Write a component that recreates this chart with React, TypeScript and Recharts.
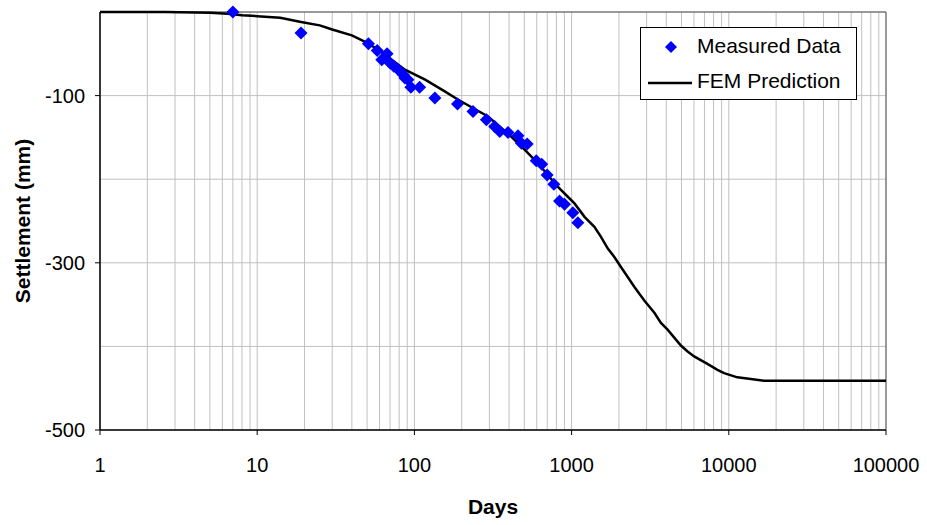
import { ScatterChart, Scatter, XAxis, YAxis, CartesianGrid, Legend, ReferenceLine } from "recharts"

// measured settlement readings (days since start, settlement in mm)
const measuredDays = [7, 19, 51, 58, 62, 67, 70, 74, 79, 85, 87, 91, 95, 108, 135, 188, 236, 287, 324, 349, 394, 456, 479, 522, 596, 646, 699, 771, 838, 901, 1018, 1096]
const measuredSettlement = [0, -25, -38, -46, -57, -50, -61, -65, -69, -75, -79, -81, -90, -90, -103, -110, -119, -129, -137, -143, -144, -148, -157, -158, -178, -182, -195, -206, -226, -230, -240, -252]

// FEM curve
const femDays = [1, 2.6, 5, 6.5, 8, 10, 14, 19, 25, 30, 40, 49, 60, 87, 117, 156, 190, 294, 413, 504, 611, 816, 946, 1043, 1208, 1396, 1538, 1700, 1870, 2060, 2275, 2510, 2900, 3370, 3700, 4080, 4960, 5470, 6020, 7310, 8470, 9330, 11330, 12700, 16750, 100000]
const femSettlement = [0, 0, -1, -2, -4, -5, -7, -12, -16, -21, -28, -36, -46, -69, -81, -95, -105, -125, -149, -165, -181, -209, -221, -229, -245, -257, -269, -283, -293, -305, -317, -329, -345, -360, -372, -380, -399, -406, -412, -421, -428, -432, -437, -438, -441, -441]

const decades = [1, 10, 100, 1000, 10000, 100000]
const xGridTicks = decades.flatMap((d, i) => (i < decades.length - 1 ? [1, 2, 3, 4, 5, 6, 7, 8, 9].map((m) => m * d) : [d]))
const yTicks = [-500, -400, -300, -200, -100, 0]
const yLabelTicks = [-500, -300, -100]

const measured = measuredDays.map((d, i) => ({ x: d, y: measuredSettlement[i] }))
const fem = femDays.map((d, i) => ({ x: d, y: femSettlement[i] }))

const font = "'Liberation Sans', Arial, sans-serif"

const XTick = (props: any) => {
  const { x, y, payload } = props
  if (!decades.includes(payload.value)) return <g />
  return (
    <g>
      <line x1={x} x2={x} y1={y} y2={y + 5} stroke="#000" />
      <text x={x} y={y + 35} textAnchor="middle" dominantBaseline="central" fontSize={20} fontFamily={font} fill="#000">
        {payload.value}
      </text>
    </g>
  )
}

const YTick = (props: any) => {
  const { x, y, payload } = props
  if (!yLabelTicks.includes(payload.value)) return <g />
  return (
    <g>
      <line x1={x - 5} x2={x} y1={y} y2={y} stroke="#000" />
      <text x={x - 15} y={y} textAnchor="end" dominantBaseline="central" fontSize={20} fontFamily={font} fill="#000">
        {payload.value}
      </text>
    </g>
  )
}

const Diamond = (props: any) => {
  const { cx, cy } = props
  const r = 6.5
  return <polygon points={`${cx},${cy - r} ${cx + r},${cy} ${cx},${cy + r} ${cx - r},${cy}`} fill="#0000ff" />
}

const renderLegend = () => (
  <div
    style={{
      position: "relative",
      width: 215,
      height: 71,
      border: "1px solid #000",
      background: "#fff",
      fontFamily: font,
      fontSize: 21,
      color: "#000",
    }}
  >
    <svg width={60} height={71} style={{ position: "absolute", left: 0, top: 0 }}>
      <polygon points="30,13 36,19 30,25 24,19" fill="#0000ff" />
      <line x1={7} x2={51} y1={55} y2={55} stroke="#000" strokeWidth={2.5} />
    </svg>
    <span style={{ position: "absolute", left: 56, top: 6, whiteSpace: "nowrap" }}>Measured Data</span>
    <span style={{ position: "absolute", left: 56, top: 41, whiteSpace: "nowrap" }}>FEM Prediction</span>
  </div>
)

export default function App() {
  return (
    <div style={{ position: "absolute", left: 0, top: 0, width: 927, height: 525, background: "#fff" }}>
      <ScatterChart width={927} height={525} margin={{ top: 12, right: 41, bottom: 0, left: 0 }}>
        <CartesianGrid stroke="#c0c0c0" strokeWidth={1} />
        <XAxis
          dataKey="x"
          type="number"
          scale="log"
          domain={[1, 100000]}
          ticks={xGridTicks}
          interval={0}
          allowDataOverflow
          height={95}
          tickSize={0}
          tickMargin={0}
          tickLine={false}
          tick={<XTick />}
          axisLine={{ stroke: "#000", strokeWidth: 1.5 }}
          label={{
            content: () => (
              <text x={493} y={506} textAnchor="middle" dominantBaseline="central" fontSize={21} fontWeight="bold" fontFamily={font} fill="#000">
                Days
              </text>
            ),
          }}
        />
        <YAxis
          dataKey="y"
          type="number"
          domain={[-500, 0]}
          ticks={yTicks}
          interval={0}
          width={100}
          tickSize={0}
          tickMargin={0}
          tickLine={false}
          tick={<YTick />}
          axisLine={{ stroke: "#000", strokeWidth: 1.5 }}
          label={{
            content: () => (
              <text
                x={22}
                y={221}
                transform="rotate(-90, 22, 221)"
                textAnchor="middle"
                dominantBaseline="central"
                fontSize={21}
                fontWeight="bold"
                fontFamily={font}
                fill="#000"
              >
                Settlement (mm)
              </text>
            ),
          }}
        />
        <ReferenceLine y={0} stroke="#555" strokeWidth={1} />
        <ReferenceLine x={100000} stroke="#555" strokeWidth={1} />
        <Legend
          layout="vertical"
          align="center"
          verticalAlign="middle"
          content={renderLegend}
          wrapperStyle={{ position: "absolute", left: 640, top: 27, width: 217 }}
        />
        <Scatter
          name="FEM Prediction"
          data={fem}
          line={{ stroke: "#000", strokeWidth: 2.5 }}
          lineType="joint"
          shape={() => <g />}
          isAnimationActive={false}
        />
        <Scatter name="Measured Data" data={measured} shape={<Diamond />} isAnimationActive={false} />
      </ScatterChart>
    </div>
  )
}
